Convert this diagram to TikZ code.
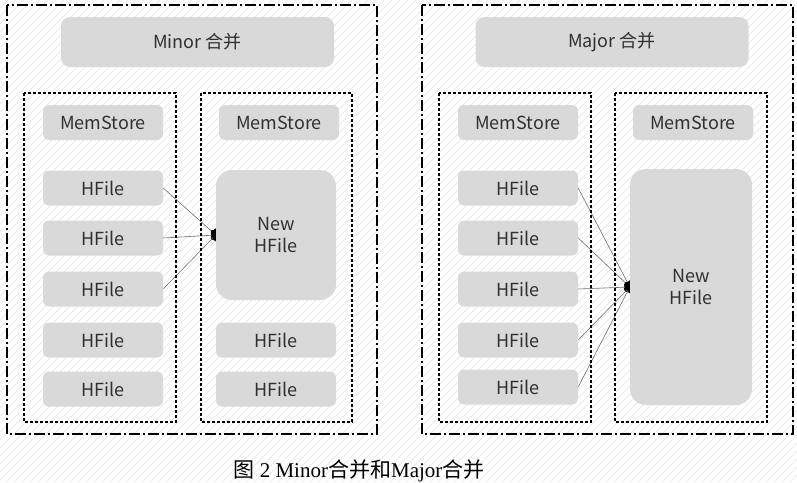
\documentclass[tikz,border=0pt]{standalone}
\usepackage{fontspec}
\setmainfont{Liberation Serif}
\newfontfamily\cjk{Noto Sans CJK SC}
\usetikzlibrary{arrows.meta}

\definecolor{boxgray}{HTML}{D9D9D9}
\definecolor{textgray}{HTML}{303030}
\definecolor{wiregray}{HTML}{6E6E6E}
\definecolor{hatchgray}{HTML}{EBEBEB}
\newcommand\boxfont{\cjk\fontsize{18}{22}\selectfont}

\pgfdeclarelayer{hatch}
\pgfdeclarelayer{wires}
\pgfsetlayers{hatch,wires,main}

\begin{document}
\begin{tikzpicture}[x=1pt,y=-1pt,
  file node/.style={fill=boxgray,rounded corners=6pt,text=textgray,font=\boxfont,minimum width=120pt,minimum height=35pt,inner sep=0pt},
  new node/.style={file node,rounded corners=16pt,align=center,minimum height=130pt},
  title node/.style={file node,rounded corners=9pt,minimum width=273pt,minimum height=50pt},
  region/.style={line width=1.1pt,dash pattern=on 11pt off 3pt on 2pt off 3pt},
  store/.style={line width=1.1pt,dash pattern=on 3pt off 2pt},
  merge/.style={draw=wiregray,line width=0.6pt,-{Ellipse[length=7pt,width=13pt,black]},shorten >=-3.5pt}]

  \useasboundingbox (0,0) rectangle (797,482);

  % background stripes
  \begin{pgfonlayer}{hatch}
    \begin{scope}
      \clip (0,0) rectangle (797,482);
      \foreach \i in {0,8,...,1288}
        \draw[hatchgray,line width=0.8pt] (\i-482,482) -- (\i,0);
    \end{scope}
  \end{pgfonlayer}

  % Minor
  \draw[region] (7,5) rectangle (377,434);
  \draw[store] (24,93) rectangle (176,422);
  \draw[store] (201,93) rectangle (352,422);
  \node[title node] at (197.5,42) (t1) {Minor 合并};
  \node[file node] at (103,122.5) (m1) {MemStore};
  \node[file node] at (279,122.5) (m2) {MemStore};
  \foreach \y [count=\i] in {188,238,289,340,389}
    \node[file node] at (103,\y) (a\i) {HFile};
  \node[new node] at (276,235) (n1) {New\\HFile};
  \node[file node] at (276,340) (a6) {HFile};
  \node[file node] at (276,389) (a7) {HFile};

  % Major
  \draw[region] (422,5) rectangle (793,434);
  \draw[store] (439,93) rectangle (591,422);
  \draw[store] (615,93) rectangle (767,422);
  \node[title node] at (612,42) (t2) {Major 合并};
  \node[file node] at (518,122.5) (m3) {MemStore};
  \node[file node] at (693,122.5) (m4) {MemStore};
  \foreach \y [count=\i] in {188,238,289,340,387}
    \node[file node] at (518,\y) (b\i) {HFile};
  \node[new node,minimum width=122pt,minimum height=236pt] at (691,287) (n2) {New\\HFile};

  \begin{pgfonlayer}{wires}
    \foreach \i in {1,2,3}
      \draw[merge] (a\i.east) -- (n1.west);
    \foreach \i in {1,...,5}
      \draw[merge] (b\i.east) -- (n2.west);
  \end{pgfonlayer}

  \node[font=\fontsize{21}{25}\selectfont] at (359,471) (cap) {{\cjk 图} 2 Minor{\cjk 合并和}Major{\cjk 合并}};

\end{tikzpicture}
\end{document}
